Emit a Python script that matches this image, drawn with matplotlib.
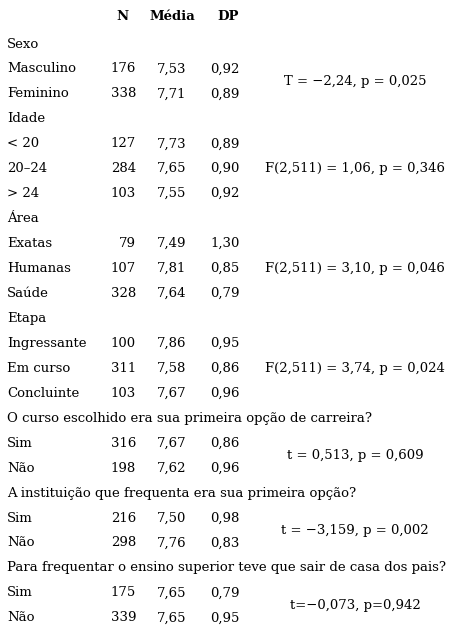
import matplotlib.pyplot as plt

labels = ["Sexo", "Masculino", "Feminino", "Idade", "< 20", "20–24", "> 24",
          "Área", "Exatas", "Humanas", "Saúde", "Etapa", "Ingressante", "Em curso", "Concluinte",
          "O curso escolhido era sua primeira opção de carreira?", "Sim", "Não",
          "A instituição que frequenta era sua primeira opção?", "Sim", "Não",
          "Para frequentar o ensino superior teve que sair de casa dos pais?", "Sim", "Não"]
n_vals = ["", "176", "338", "", "127", "284", "103", "", "79", "107", "328", "", "100", "311", "103",
          "", "316", "198", "", "216", "298", "", "175", "339"]
media = ["", "7,53", "7,71", "", "7,73", "7,65", "7,55", "", "7,49", "7,81", "7,64", "", "7,86", "7,58", "7,67",
         "", "7,67", "7,62", "", "7,50", "7,76", "", "7,65", "7,65"]
dp = ["", "0,92", "0,89", "", "0,89", "0,90", "0,92", "", "1,30", "0,85", "0,79", "", "0,95", "0,86", "0,96",
      "", "0,86", "0,96", "", "0,98", "0,83", "", "0,79", "0,95"]
# (row index where the stat is centred, text)
stats = [(1.5, "T = −2,24, p = 0,025"), (5, "F(2,511) = 1,06, p = 0,346"),
         (9, "F(2,511) = 3,10, p = 0,046"), (13, "F(2,511) = 3,74, p = 0,024"),
         (16.5, "t = 0,513, p = 0,609"), (19.5, "t = −3,159, p = 0,002"),
         (22.5, "t=−0,073, p=0,942")]

plt.rcParams['font.family'] = ['DejaVu Serif']
fig = plt.figure(figsize=(4.59, 6.33), dpi=100)
ax = fig.add_axes([0, 0, 1, 1])
ax.set_xlim(0, 459)
ax.set_ylim(633, 0)
ax.axis('off')

fs = 9.5
y0, dy = 44, 24.95
ax.text(122, 17, "N", ha='center', va='center', fontsize=fs, weight='bold')
ax.text(172, 17, "Média", ha='center', va='center', fontsize=fs, weight='bold')
ax.text(228, 17, "DP", ha='center', va='center', fontsize=fs, weight='bold')

for i, lab in enumerate(labels):
    y = y0 + i * dy
    ax.text(7, y, lab, ha='left', va='center', fontsize=fs)
    ax.text(136, y, n_vals[i], ha='right', va='center', fontsize=fs)
    ax.text(172, y, media[i], ha='center', va='center', fontsize=fs)
    ax.text(225, y, dp[i], ha='center', va='center', fontsize=fs)

for r, s in stats:
    ax.text(355, y0 + r * dy, s, ha='center', va='center', fontsize=fs)

fig.savefig("out.png", dpi=100)
